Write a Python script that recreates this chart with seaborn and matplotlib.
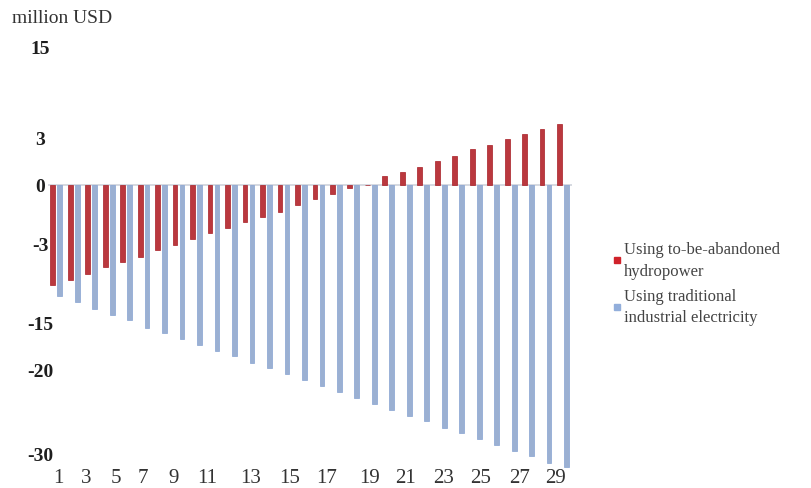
import numpy as np
import pandas as pd
import matplotlib
matplotlib.use("Agg")
import matplotlib.pyplot as plt
from matplotlib.lines import Line2D
import seaborn as sns

# data (million USD)
years = list(range(1, 31))
hydro = [-11.2, -10.6, -9.9, -9.2, -8.6, -8.0, -7.3, -6.7, -6.1, -5.4,
         -4.8, -4.2, -3.6, -3.0, -2.3, -1.6, -1.1, -0.4, 0.0, 0.9,
         1.4, 2.0, 2.6, 3.2, 3.9, 4.4, 5.1, 5.6, 6.2, 6.7]
traditional = [-12.4, -13.1, -13.8, -14.5, -15.1, -15.9, -16.5, -17.2, -17.8, -18.5,
               -19.1, -19.8, -20.4, -21.1, -21.7, -22.4, -23.0, -23.7, -24.4, -25.0,
               -25.7, -26.3, -27.0, -27.6, -28.3, -28.9, -29.6, -30.2, -30.9, -31.4]
series_names = ["Using to-be-abandoned\nhydropower",
                "Using traditional\nindustrial electricity"]
ytick_labels = ["15", "3", "0", "-3", "-15", "-20", "-30"]
xtick_labels = [str(v) for v in range(1, 30, 2)]

# layout: the printed axis labels sit at uneven places in the source picture
ytick_pos = [15.3, 5.2, 0, -6.5, -15.3, -20.6, -29.9]
xtick_pos = [0.12, 1.74, 3.42, 4.98, 6.70, 8.61, 11.13, 13.38, 15.48,
             17.90, 20.00, 22.19, 24.30, 26.49, 28.58]

colors = {series_names[0]: "#d0222a", series_names[1]: "#92aedb"}
edges = ["#a81d24", "#86a2d2"]

df = pd.DataFrame({
    "year": years * 2,
    "value": hydro + traditional,
    "series": [series_names[0]] * len(years) + [series_names[1]] * len(years),
})

sns.set_style("white")
serif = ["Liberation Serif", "DejaVu Serif"]

fig = plt.figure(figsize=(8.12, 4.89), dpi=100)
ax = fig.add_axes([0.0585, 0.0409, 0.6457, 0.8742])

ax.axhline(0, color="#cfd3db", lw=1.2, zorder=0)
sns.barplot(data=df, x="year", y="value", hue="series", palette=colors,
            width=0.8, gap=0.32, legend=False, ax=ax, zorder=2)
for cont, ec in zip(ax.containers, edges):
    for bar in cont:
        bar.set_edgecolor(ec)
        bar.set_linewidth(0.5)

ax.set_ylim(-31.5, 16)
ax.set_xlim(-0.5, 29.5)
for s in ax.spines.values():
    s.set_visible(False)
ax.set_xlabel("")
ax.set_ylabel("")

ax.set_yticks(ytick_pos, ytick_labels)
ax.tick_params(axis="y", length=0, pad=5)
for lab in ax.get_yticklabels():
    lab.set_fontfamily(serif)
    lab.set_fontweight("bold")
    lab.set_fontsize(14)
    lab.set_color("#1e1e1e")
    lab.set_horizontalalignment("center")

ax.set_xticks(xtick_pos, xtick_labels)
ax.tick_params(axis="x", length=0, pad=0)
for lab in ax.get_xticklabels():
    lab.set_fontfamily(serif)
    lab.set_fontsize(15)
    lab.set_color("#333333")

fig.text(12 / 812, 1 - 10 / 489, "million USD", ha="left", va="top",
         family=serif, fontsize=14, color="#333333")

handles = [Line2D([], [], marker="s", ls="", color=colors[n], markersize=4)
           for n in series_names]
leg = fig.legend(handles, series_names, loc="upper left",
                 bbox_to_anchor=(605 / 812, 1 - 234 / 489), frameon=False,
                 handlelength=0.5, handletextpad=0.15, borderpad=0, labelspacing=0.55,
                 prop={"family": "Liberation Serif", "size": 12}, labelcolor="#444444")
for t in leg.get_texts():
    t.set_linespacing(1.45)

fig.savefig("out.png", dpi=100)
